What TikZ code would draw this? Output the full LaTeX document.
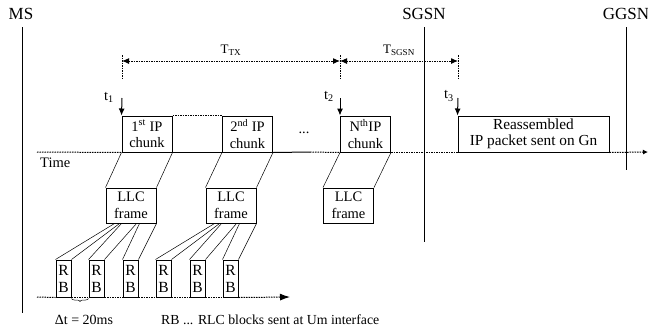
\documentclass[tikz,border=0pt]{standalone}
\usepackage{fontspec}
\setmainfont{Liberation Serif}
\usetikzlibrary{arrows.meta,calc,decorations.pathreplacing}
\begin{document}
\begin{tikzpicture}[x=1pt,y=-1pt,
  txt/.style={font=\fontsize{14.5}{16.5}\selectfont, inner sep=0pt},
  dimtxt/.style={font=\fontsize{13}{15}\selectfont, inner sep=0pt},
  big/.style={font=\fontsize{17}{20}\selectfont, inner sep=0pt},
  box/.style={draw, line width=1pt, inner sep=0pt, align=center, font=\fontsize{14.5}{16.5}\selectfont},
  chunkbox/.style={box, minimum width=50pt, minimum height=36pt},
  llcbox/.style={box, minimum width=50pt, minimum height=35pt},
  rbbox/.style={box, minimum width=15pt, minimum height=37pt, font=\fontsize{15.5}{17}\selectfont},
  life/.style={line width=1pt},
  dotl/.style={dash pattern=on 1.5pt off 1pt, line width=1pt},
  fan/.style={line width=0.5pt},
  tipA/.style={-{Latex[length=7pt,width=6pt]}},
]
\useasboundingbox (0,0) rectangle (648,333);

% entity labels and lifelines
\node[big] (ms) at (21,14) {MS};
\node[big] (sgsn) at (424,14) {SGSN};
\node[big] (ggsn) at (626,14) {GGSN};
\coordinate (msT) at (22,27);   \coordinate (msB) at (22,313);
\coordinate (sgT) at (424,27);  \coordinate (sgB) at (424,242);
\coordinate (ggT) at (626,27);  \coordinate (ggB) at (626,170);
\draw[life] (msT) -- (msB);
\draw[life] (sgT) -- (sgB);
\draw[life] (ggT) -- (ggB);

% IP chunk boxes
\node[chunkbox] (c1) at (147,134) {1\textsuperscript{st} IP\\chunk};
\node[chunkbox] (c2) at (247.5,134) {2\textsuperscript{nd} IP\\chunk};
\node[chunkbox] (cN) at (365.5,134) {N\textsuperscript{th}IP\\chunk};
\node[box, minimum width=151pt, minimum height=36pt, font=\fontsize{15.3}{16.5}\selectfont] (re) at (533.5,134) {Reassembled\\IP packet sent on Gn};
\node[txt] (dots) at (304,133) {...};

% time axis
\coordinate (tA) at (37,152);
\coordinate (tS) at (310,152);
\coordinate (tE) at (648,152);
\draw[dotl] (tA) -- (c1.south west);
\draw[line width=1pt] (c1.south east) -- (c2.south west);
\draw[line width=1pt] (c2.south east) -- (tS);
\draw[dotl] (tS) -- (cN.south west);
\draw[dotl] (cN.south east) -- (re.south west);
\draw[dotl, -{Latex[length=5pt,width=5pt]}] (re.south east) -- (tE);
\draw[dotl] (c1.north east) -- (c2.north west);
\node[txt, anchor=west] (time) at (40,163) {Time};

% time marks t1, t2, t3
\node[txt] (t1) at (109,97) {t\textsubscript{1}};
\node[txt] (t2) at (329,96) {t\textsubscript{2}};
\node[txt] (t3) at (449,96) {t\textsubscript{3}};
\coordinate (a1) at (122,98);
\coordinate (a2) at (340,98);
\coordinate (a3) at (458,98);
\draw[line width=1pt, tipA] (a1) -- (c1.north west);
\draw[line width=1pt, tipA] (a2) -- (cN.north west);
\draw[line width=1pt, tipA] (a3) -- (re.north west);

% dimension lines
\coordinate (d1) at (122,61);
\coordinate (d2) at (340,61);
\coordinate (d3) at (458,61);
\draw[dotl] ($(d1)+(0,-6)$) -- ($(d1)+(0,19)$);
\draw[dotl] ($(d2)+(0,-6)$) -- ($(d2)+(0,19)$);
\draw[dotl] ($(d3)+(0,-6)$) -- ($(d3)+(0,19)$);
\draw[dotl, {Latex[length=7pt,width=6pt]}-{Latex[length=7pt,width=6pt]}] (d1) -- (d2);
\draw[dotl, {Latex[length=7pt,width=6pt]}-{Latex[length=7pt,width=6pt]}] (d2) -- (d3);
\node[dimtxt] (ttx) at (231,50) {T\textsubscript{TX}};
\node[dimtxt] (tsg) at (399,50) {T\textsubscript{SGSN}};

% LLC frames
\node[llcbox] (l1) at (131,205.5) {LLC\\frame};
\node[llcbox] (l2) at (231,205.5) {LLC\\frame};
\node[llcbox] (l3) at (348.5,205.5) {LLC\\frame};
\draw[fan] (c1.south west) -- (l1.north west);
\draw[fan] (c1.south east) -- (l1.north east);
\draw[fan] (c2.south west) -- (l2.north west);
\draw[fan] (c2.south east) -- (l2.north east);
\draw[fan] (cN.south west) -- (l3.north west);
\draw[fan] (cN.south east) -- (l3.north east);

% RLC blocks
\node[rbbox] (rb1) at (63.5,278.5) {R\\B};
\node[rbbox] (rb2) at (96.5,278.5) {R\\B};
\node[rbbox] (rb3) at (130.5,278.5) {R\\B};
\node[rbbox] (rb4) at (163.5,278.5) {R\\B};
\node[rbbox] (rb5) at (197.5,278.5) {R\\B};
\node[rbbox] (rb6) at (230.5,278.5) {R\\B};

\draw[fan] ([xshift=9pt]l1.south west) -- (rb1.north west);
\draw[fan] ([xshift=14pt]l1.south west) -- (rb1.north east);
\draw[fan] ([xshift=16pt]l1.south west) -- (rb2.north west);
\draw[fan] ([xshift=31pt]l1.south west) -- (rb2.north east);
\draw[fan] ([xshift=34pt]l1.south west) -- (rb3.north west);
\draw[fan] (l1.south east) -- (rb3.north east);
\draw[fan] ([xshift=9pt]l2.south west) -- (rb4.north west);
\draw[fan] ([xshift=14pt]l2.south west) -- (rb4.north east);
\draw[fan] ([xshift=16pt]l2.south west) -- (rb5.north west);
\draw[fan] ([xshift=31pt]l2.south west) -- (rb5.north east);
\draw[fan] ([xshift=34pt]l2.south west) -- (rb6.north west);
\draw[fan] (l2.south east) -- (rb6.north east);

% Um axis
\coordinate (rA) at (37,297);
\coordinate (rE) at (290,297);
\draw[dotl] (rA) -- (rb1.south west);
\draw[dotl] (rb1.south east) -- (rb2.south west);
\draw[dotl] (rb2.south east) -- (rb3.south west);
\draw[dotl] (rb3.south east) -- (rb4.south west);
\draw[dotl] (rb4.south east) -- (rb5.south west);
\draw[dotl] (rb5.south east) -- (rb6.south west);
\draw[dotl, -{Latex[length=10pt,width=7pt]}] (rb6.south east) -- (rE);

% delta t brace
\draw[line width=0.5pt, decorate, decoration={brace, amplitude=3pt, raise=1pt}] (rb2.south west) -- (rb1.south east);

% bottom texts
\node[txt, font=\fontsize{14}{16}\selectfont] (dt) at (84,320) {Δt = 20ms};
\node[txt, anchor=west, font=\fontsize{13.8}{16}\selectfont] (leg) at (161,320) {RB ... RLC blocks sent at Um interface};
\end{tikzpicture}
\end{document}
